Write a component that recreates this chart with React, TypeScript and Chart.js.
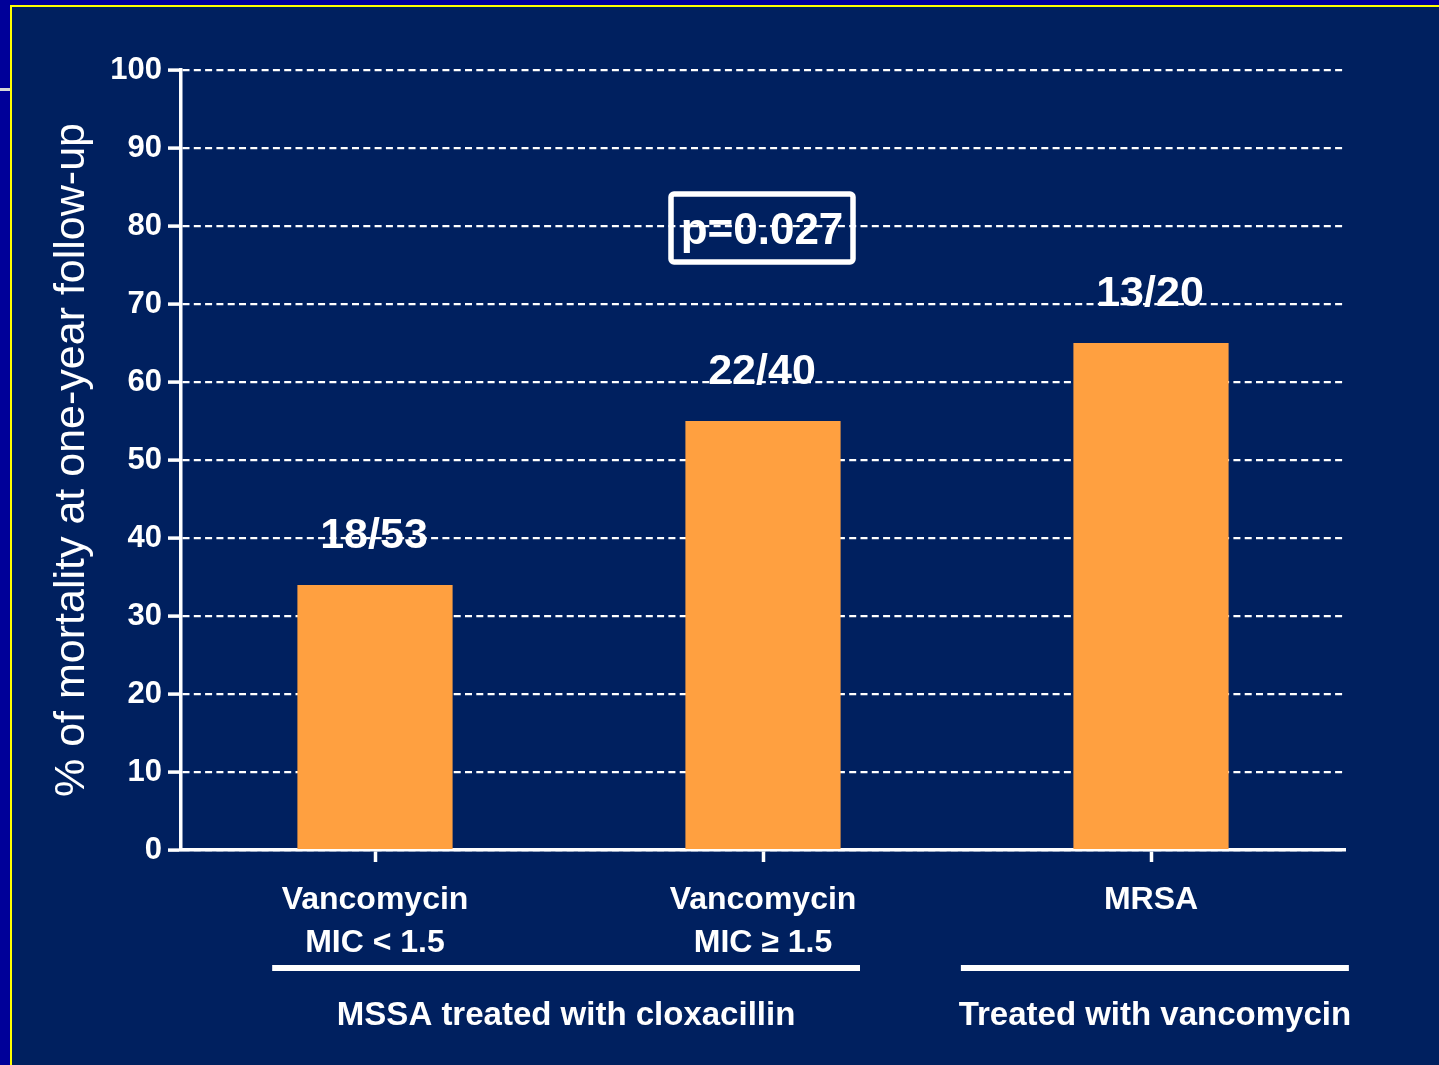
import React, { useEffect, useRef } from "react";
import { Chart, registerables } from "chart.js";

Chart.register(...registerables);

// Category labels (multi-line), deaths and cohort sizes per group
const categories: string[][] = [
  ["Vancomycin", "MIC < 1.5"],
  ["Vancomycin", "MIC \u2265 1.5"],
  ["MRSA"],
];
const deaths: number[] = [18, 22, 13];
const patients: number[] = [53, 40, 20];

// Axis range
const yMin = 0;
const yMax = 100;
const yStep = 10;

const yTitle = "% of mortality at one-year follow-up";
const pValueText = "p=0.027";
const pValueLevel = 80;

// Treatment groups spanning categories (first..last index)
const groupLabels: string[] = ["MSSA treated with cloxacillin", "Treated with vancomycin"];
const groupFirst: number[] = [0, 2];
const groupLast: number[] = [1, 2];

const mortalityPct = deaths.map((d, i) => (d / patients[i]) * 100);
const fractionLabels = deaths.map((d, i) => `${d}/${patients[i]}`);

const FONT = '"Liberation Sans", Arial, Helvetica, sans-serif';
const OUTER_BG = "#000099";
const PANEL_BG = "#00205F";
const BAR_COLOR = "#FFA040";
const WHITE = "#FFFFFF";

const W = 1439;
const H = 1065;

const slidePlugin = {
  id: "slideDecor",
  beforeDraw(chart: any) {
    const ctx = chart.ctx;
    ctx.save();
    ctx.fillStyle = OUTER_BG;
    ctx.fillRect(0, 0, W, H);
    ctx.fillStyle = PANEL_BG;
    ctx.fillRect(10, 5, W - 10, H - 5);
    // yellow frame (top and left edges)
    ctx.fillStyle = "#FFFF00";
    ctx.fillRect(10, 5, W - 10, 2);
    ctx.fillRect(10, 5, 2, H - 5);
    // small grey rule at the left margin
    ctx.fillStyle = "#D8D8D8";
    ctx.fillRect(0, 88, 10, 3);
    ctx.restore();
  },
  afterDatasetsDraw(chart: any) {
    const ctx = chart.ctx;
    const meta = chart.getDatasetMeta(0);
    ctx.save();
    ctx.fillStyle = WHITE;
    ctx.font = `bold 43px ${FONT}`;
    ctx.textAlign = "center";
    ctx.textBaseline = "alphabetic";
    meta.data.forEach((bar: any, i: number) => {
      ctx.fillText(fractionLabels[i], bar.x - 1, bar.y - 37);
    });
    ctx.restore();
  },
  afterDraw(chart: any) {
    const ctx = chart.ctx;
    const x = chart.scales.x;
    const y = chart.scales.y;
    const area = chart.chartArea;
    const step = x.getPixelForValue(1) - x.getPixelForValue(0);

    ctx.save();
    // p-value box above the middle bar
    const cx = x.getPixelForValue(1) - 1;
    const cy = y.getPixelForValue(pValueLevel) + 2;
    ctx.font = `bold 44px ${FONT}`;
    ctx.textAlign = "center";
    ctx.textBaseline = "alphabetic";
    ctx.fillStyle = WHITE;
    ctx.fillText(pValueText, cx, cy + 16);
    const bw = 182;
    const bh = 68;
    ctx.strokeStyle = WHITE;
    ctx.lineWidth = 5.5;
    ctx.beginPath();
    ctx.roundRect(cx - bw / 2, cy - bh / 2, bw, bh, 3);
    ctx.stroke();

    // treatment group rules and captions
    const extLeft = [0.265, 0.49];
    const extRight = [0.25, 0.51];
    ctx.font = `bold 33px ${FONT}`;
    groupLabels.forEach((label, g) => {
      const left = x.getPixelForValue(groupFirst[g]) - extLeft[g] * step;
      const right = x.getPixelForValue(groupLast[g]) + extRight[g] * step;
      ctx.fillStyle = WHITE;
      ctx.fillRect(left, area.bottom + 115, right - left, 6);
      ctx.fillText(label, (left + right) / 2, area.bottom + 175);
    });
    ctx.restore();
  },
};

export default function App() {
  const canvasRef = useRef<HTMLCanvasElement | null>(null);

  useEffect(() => {
    if (!canvasRef.current) return;
    const chart = new Chart(canvasRef.current, {
      type: "bar",
      data: {
        labels: categories,
        datasets: [
          {
            data: mortalityPct,
            backgroundColor: BAR_COLOR,
            borderWidth: 0,
            categoryPercentage: 1,
            barPercentage: 0.4,
          },
        ],
      },
      options: {
        animation: false,
        responsive: false,
        devicePixelRatio: 1,
        layout: { padding: { top: 70, right: 94, bottom: 0, left: 0 } },
        plugins: {
          legend: { display: false },
          tooltip: { enabled: false },
        },
        scales: {
          x: {
            offset: true,
            grid: {
              offset: false,
              drawOnChartArea: false,
              drawTicks: true,
              tickLength: 12,
              tickColor: WHITE,
              tickWidth: 3.5,
            },
            border: { display: true, color: WHITE, width: 3.5 },
            ticks: {
              color: WHITE,
              padding: 16,
              maxRotation: 0,
              autoSkip: false,
              font: { family: FONT, size: 32, weight: "bold", lineHeight: 1.36 },
            },
            afterFit(scale: any) {
              scale.height = 215;
            },
          },
          y: {
            min: yMin,
            max: yMax,
            grid: {
              color: WHITE,
              lineWidth: 2.2,
              drawTicks: true,
              tickLength: 13,
              tickColor: WHITE,
              tickWidth: 3.5,
            },
            border: { display: true, color: WHITE, width: 3.5, dash: [7, 4.3] },
            ticks: {
              stepSize: yStep,
              color: WHITE,
              padding: 6,
              font: { family: FONT, size: 31, weight: "bold" },
            },
            title: {
              display: true,
              text: yTitle,
              color: WHITE,
              padding: { top: 46, bottom: 0 },
              font: { family: FONT, size: 43, weight: "normal", lineHeight: 1.2 },
            },
            afterFit(scale: any) {
              scale.width = 181;
            },
          },
        },
      },
      plugins: [slidePlugin],
    });
    return () => chart.destroy();
  }, []);

  return (
    <div style={{ position: "absolute", left: 0, top: 0, width: W, height: H, overflow: "hidden" }}>
      <canvas ref={canvasRef} width={W} height={H} style={{ display: "block", width: W, height: H }} />
    </div>
  );
}
